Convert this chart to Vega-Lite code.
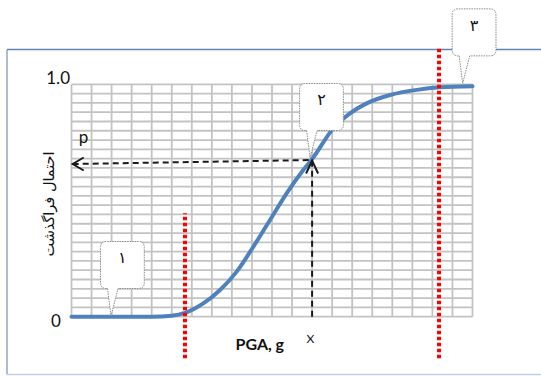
{
  "$schema": "https://vega.github.io/schema/vega-lite/v6.json",
  "width": 541,
  "height": 376,
  "autosize": {"type": "none"},
  "padding": 0,
  "background": "white",
  "config": {"view": {"stroke": null}},
  "datasets": {
    "frame": [
      {"side": "top", "x": -3.217, "x2": 24.5, "y": 1.1497, "y2": 1.1497},
      {"side": "left", "x": -3.217, "x2": -3.217, "y": 1.1497, "y2": -0.2487},
      {"side": "bottom", "x": -3.217, "x2": 24.5, "y": -0.2487, "y2": -0.2487}
    ],
    "vgrid": [
      {"x": 0}, {"x": 1}, {"x": 2}, {"x": 3}, {"x": 4}, {"x": 5}, {"x": 6}, {"x": 7}, {"x": 8}, {"x": 9}, {"x": 10},
      {"x": 11}, {"x": 12}, {"x": 13}, {"x": 14}, {"x": 15}, {"x": 16}, {"x": 17}, {"x": 18}, {"x": 19}, {"x": 20}
    ],
    "hgrid": [
      {"y": 0}, {"y": 0.04}, {"y": 0.08}, {"y": 0.12}, {"y": 0.16}, {"y": 0.2}, {"y": 0.24}, {"y": 0.28}, {"y": 0.32},
      {"y": 0.36}, {"y": 0.4}, {"y": 0.44}, {"y": 0.48}, {"y": 0.52}, {"y": 0.56}, {"y": 0.6}, {"y": 0.64}, {"y": 0.68},
      {"y": 0.72}, {"y": 0.76}, {"y": 0.8}, {"y": 0.84}, {"y": 0.88}, {"y": 0.92}, {"y": 0.96}, {"y": 1.0}
    ],
    "curve": [
      {"x": 0, "y": 0}, {"x": 2, "y": 0}, {"x": 4, "y": 0}, {"x": 5, "y": 0.004}, {"x": 5.66, "y": 0.016},
      {"x": 6.57, "y": 0.057}, {"x": 7.41, "y": 0.115}, {"x": 8.24, "y": 0.194}, {"x": 9.07, "y": 0.301},
      {"x": 9.9, "y": 0.416}, {"x": 10.73, "y": 0.531}, {"x": 11.56, "y": 0.631}, {"x": 12, "y": 0.678},
      {"x": 13.06, "y": 0.811}, {"x": 13.89, "y": 0.875}, {"x": 14.72, "y": 0.918}, {"x": 15.89, "y": 0.954},
      {"x": 17.22, "y": 0.976}, {"x": 18.38, "y": 0.987}, {"x": 20, "y": 0.992}
    ],
    "redlines": [
      {"x": 5.66, "y": -0.179, "y2": 0.445},
      {"x": 18.33, "y": -0.179, "y2": 1.159}
    ],
    "guides": [
      {"seg": "h", "x": 0.06, "y": 0.657},
      {"seg": "h", "x": 12, "y": 0.674},
      {"seg": "v", "x": 12, "y": 0},
      {"seg": "v", "x": 12, "y": 0.672}
    ],
    "heads": [
      {"dir": "left", "x": 0.06, "y": 0.657},
      {"dir": "up", "x": 12, "y": 0.672}
    ],
    "callouts": [
      {"label": "١", "x": 1.97, "y": 0.003},
      {"label": "٢", "x": 11.9, "y": 0.683},
      {"label": "٣", "x": 19.51, "y": 1.004}
    ],
    "ticklabels": [
      {"text": "1.0", "x": -0.075, "y": 1.0},
      {"text": "0", "x": -0.524, "y": -0.043},
      {"text": "p", "x": 0.838, "y": 0.746}
    ]
  },
  "layer": [
    {
      "data": {"name": "frame"},
      "mark": {"type": "rule", "strokeWidth": 1.3, "clip": true},
      "encoding": {
        "x": {"field": "x", "type": "quantitative", "scale": {"domain": [-3.566, 23.416], "nice": false, "zero": false}, "axis": null},
        "x2": {"field": "x2"},
        "y": {"field": "y", "type": "quantitative", "scale": {"domain": [-0.2552, 1.3627], "nice": false, "zero": false}, "axis": null},
        "y2": {"field": "y2"},
        "color": {"field": "side", "type": "nominal", "scale": {"domain": ["top", "left", "bottom"], "range": ["#6285b2", "#7f99bd", "#c6d0dd"]}, "legend": null}
      }
    },
    {
      "data": {"name": "vgrid"},
      "mark": {"type": "rule", "color": "#c3c3c3", "strokeWidth": 1.8},
      "encoding": {
        "x": {"field": "x", "type": "quantitative", "scale": {"domain": [-3.566, 23.416], "nice": false, "zero": false}, "axis": null},
        "y": {"datum": 0, "type": "quantitative", "scale": {"domain": [-0.2552, 1.3627], "nice": false, "zero": false}, "axis": null},
        "y2": {"datum": 1}
      }
    },
    {
      "data": {"name": "hgrid"},
      "mark": {"type": "rule", "color": "#c3c3c3", "strokeWidth": 1.8},
      "encoding": {
        "y": {"field": "y", "type": "quantitative", "scale": {"domain": [-0.2552, 1.3627], "nice": false, "zero": false}, "axis": null},
        "x": {"datum": 0, "type": "quantitative", "scale": {"domain": [-3.566, 23.416], "nice": false, "zero": false}, "axis": null},
        "x2": {"datum": 20}
      }
    },
    {
      "data": {"name": "curve"},
      "mark": {"type": "line", "color": "#4f81bd", "strokeWidth": 4, "interpolate": "monotone", "strokeCap": "round"},
      "encoding": {
        "x": {"field": "x", "type": "quantitative", "scale": {"domain": [-3.566, 23.416], "nice": false, "zero": false}, "axis": null},
        "y": {"field": "y", "type": "quantitative", "scale": {"domain": [-0.2552, 1.3627], "nice": false, "zero": false}, "axis": null}
      }
    },
    {
      "data": {"name": "guides"},
      "mark": {"type": "line", "color": "#1a1a1a", "strokeWidth": 2, "strokeDash": [6, 4]},
      "encoding": {
        "x": {"field": "x", "type": "quantitative", "scale": {"domain": [-3.566, 23.416], "nice": false, "zero": false}, "axis": null},
        "y": {"field": "y", "type": "quantitative", "scale": {"domain": [-0.2552, 1.3627], "nice": false, "zero": false}, "axis": null},
        "detail": {"field": "seg", "type": "nominal"}
      }
    },
    {
      "data": {"name": "heads"},
      "mark": {"type": "point", "filled": false, "stroke": "#1a1a1a", "strokeWidth": 2, "size": 4, "opacity": 1},
      "encoding": {
        "x": {"field": "x", "type": "quantitative", "scale": {"domain": [-3.566, 23.416], "nice": false, "zero": false}, "axis": null},
        "y": {"field": "y", "type": "quantitative", "scale": {"domain": [-0.2552, 1.3627], "nice": false, "zero": false}, "axis": null},
        "shape": {"field": "dir", "type": "nominal", "scale": {"domain": ["left", "up"], "range": ["M11,-6.5L0,0L11,6.5", "M-6,13L0,0L6,13"]}, "legend": null}
      }
    },
    {
      "data": {"name": "redlines"},
      "mark": {"type": "rule", "color": "#ff0000", "strokeWidth": 4, "strokeDash": [3.5, 2.5]},
      "encoding": {
        "x": {"field": "x", "type": "quantitative", "scale": {"domain": [-3.566, 23.416], "nice": false, "zero": false}, "axis": null},
        "y": {"field": "y", "type": "quantitative", "scale": {"domain": [-0.2552, 1.3627], "nice": false, "zero": false}, "axis": null},
        "y2": {"field": "y2"}
      }
    },
    {
      "data": {"name": "callouts"},
      "mark": {"type": "point", "shape": "M-3.5,-27.5L0,0L7,-27.5L27.3,-27.5Q33.3,-27.5 33.3,-33.5L33.3,-68.5Q33.3,-74.5 27.3,-74.5L-4.5,-74.5Q-10.5,-74.5 -10.5,-68.5L-10.5,-33.5Q-10.5,-27.5 -4.5,-27.5Z", "size": 4, "filled": true, "fill": "#ffffff", "fillOpacity": 1, "stroke": "#8a8a8a", "strokeWidth": 1, "strokeDash": [1.5, 1], "opacity": 1},
      "encoding": {
        "x": {"field": "x", "type": "quantitative", "scale": {"domain": [-3.566, 23.416], "nice": false, "zero": false}, "axis": null},
        "y": {"field": "y", "type": "quantitative", "scale": {"domain": [-0.2552, 1.3627], "nice": false, "zero": false}, "axis": null}
      }
    },
    {
      "data": {"name": "callouts"},
      "mark": {"type": "text", "font": "DejaVu Sans", "fontSize": 16, "fontWeight": "normal", "color": "#111111", "dx": 11.4, "dy": -57.5, "align": "center", "baseline": "middle"},
      "encoding": {
        "x": {"field": "x", "type": "quantitative", "scale": {"domain": [-3.566, 23.416], "nice": false, "zero": false}, "axis": null},
        "y": {"field": "y", "type": "quantitative", "scale": {"domain": [-0.2552, 1.3627], "nice": false, "zero": false}, "axis": null},
        "text": {"field": "label"}
      }
    },
    {
      "data": {"name": "ticklabels"},
      "mark": {"type": "text", "font": "Lato", "fontSize": 17, "color": "#111111", "align": "right", "baseline": "alphabetic"},
      "encoding": {
        "x": {"field": "x", "type": "quantitative", "scale": {"domain": [-3.566, 23.416], "nice": false, "zero": false}, "axis": null},
        "y": {"field": "y", "type": "quantitative", "scale": {"domain": [-0.2552, 1.3627], "nice": false, "zero": false}, "axis": null},
        "text": {"field": "text"}
      }
    },
    {
      "data": {"values": [{"text": "PGA, g", "x": 9.39, "y": -0.143}]},
      "mark": {"type": "text", "font": "Lato", "fontSize": 16, "fontWeight": "bold", "color": "#111111", "align": "center", "baseline": "alphabetic"},
      "encoding": {
        "x": {"field": "x", "type": "quantitative", "scale": {"domain": [-3.566, 23.416], "nice": false, "zero": false}, "axis": null},
        "y": {"field": "y", "type": "quantitative", "scale": {"domain": [-0.2552, 1.3627], "nice": false, "zero": false}, "axis": null},
        "text": {"field": "text"}
      }
    },
    {
      "data": {"values": [{"text": "X", "x": 11.92, "y": -0.112}]},
      "mark": {"type": "text", "font": "Lato", "fontSize": 12, "color": "#111111", "align": "center", "baseline": "alphabetic"},
      "encoding": {
        "x": {"field": "x", "type": "quantitative", "scale": {"domain": [-3.566, 23.416], "nice": false, "zero": false}, "axis": null},
        "y": {"field": "y", "type": "quantitative", "scale": {"domain": [-0.2552, 1.3627], "nice": false, "zero": false}, "axis": null},
        "text": {"field": "text"}
      }
    },
    {
      "data": {"values": [{"text": "احتمال فراگذشت", "x": -1.072, "y": 0.485}]},
      "mark": {"type": "text", "font": "DejaVu Sans", "fontSize": 14.5, "color": "#111111", "align": "center", "baseline": "middle", "angle": 270},
      "encoding": {
        "x": {"field": "x", "type": "quantitative", "scale": {"domain": [-3.566, 23.416], "nice": false, "zero": false}, "axis": null},
        "y": {"field": "y", "type": "quantitative", "scale": {"domain": [-0.2552, 1.3627], "nice": false, "zero": false}, "axis": null},
        "text": {"field": "text"}
      }
    }
  ]
}
